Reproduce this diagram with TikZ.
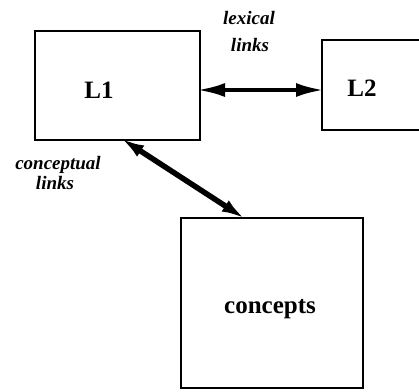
\documentclass[tikz,border=0pt]{standalone}
\usepackage{fontspec}
\setmainfont{Liberation Serif}
\usetikzlibrary{arrows.meta,calc}
\tikzset{
  box/.style={draw, line width=2pt, inner sep=0pt},
  boxtext/.style={font=\bfseries\fontsize{25}{30}\selectfont, inner sep=0pt},
  linklabel/.style={font=\bfseries\itshape\fontsize{19}{20}\selectfont, inner sep=0pt, align=center},
  tipA/.style={{Latex[length=28pt 0 0,width=14pt 0 0]}-{Latex[length=28pt 0 0,width=14pt 0 0]}},
  tipB/.style={{Latex[length=24pt 0 0,width=13pt 0 0]}-{Latex[length=24pt 0 0,width=13pt 0 0]}},
}
\begin{document}
\begin{tikzpicture}[x=1pt,y=-1pt]
\useasboundingbox[fill=white] (0,0) rectangle (419,391);
% boxes
\node[box, minimum width=165pt, minimum height=109pt] (L1) at (117.5,85.5) {};
\node[box, minimum width=110pt, minimum height=90pt] (L2) at (377,85) {};
\node[box, minimum width=182pt, minimum height=170pt] (C) at (272,303) {};
% box texts
\node[boxtext] (t1) at (99,90) {L1};
\node[boxtext] (t2) at (362,88) {L2};
\node[boxtext] (t3) at (270,309) {concepts};
% link labels
\node[linklabel] (lex1) at (249,18) {lexical};
\node[linklabel] (lex2) at (250,45) {links};
\node[linklabel] (con1) at (58,165) {conceptual};
\node[linklabel] (con2) at (55,183) {links};
% connectors
\coordinate (a1) at ($(L1.east)+(-4,4.5)$);
\coordinate (a2) at ($(L2.west |- a1)+(3,0)$);
\draw[tipA, line width=4pt] (a1) -- (a2);
\coordinate (b1) at ($(L1.south west)!0.53!(L1.south east)+(-2,-3)$);
\coordinate (b2) at ($(C.north west)!0.35!(C.north east)+(1,2)$);
\draw[tipB, line width=5.5pt] (b1) -- (b2);
\end{tikzpicture}
\end{document}
